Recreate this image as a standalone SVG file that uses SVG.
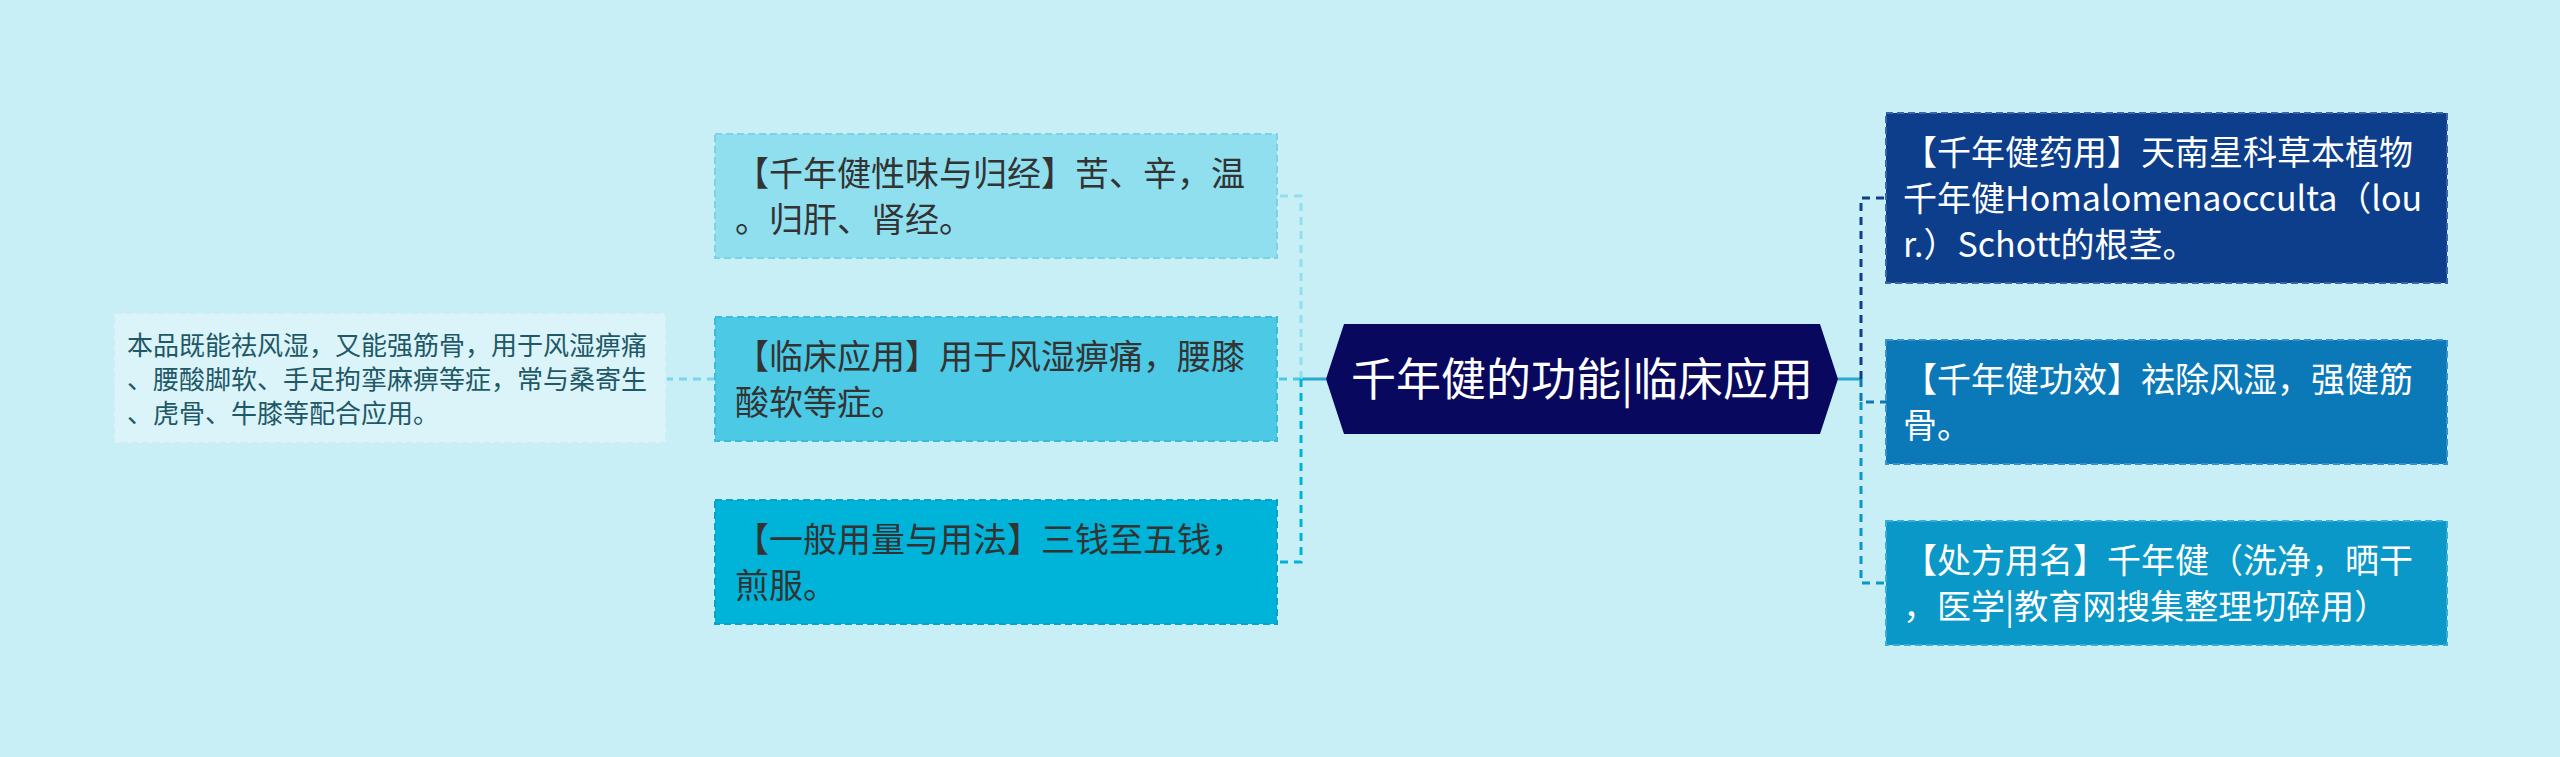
<svg xmlns="http://www.w3.org/2000/svg" width="2560" height="757" viewBox="0 0 2560 757">
<style>
text{font-family:"Noto Sans CJK SC","Noto Sans",sans-serif;}
.t34{font-size:34px;}
.dark{fill:#333333;}
.white{fill:#ffffff;}
.box{stroke-width:2;stroke-dasharray:7 4;}
.conn{fill:none;stroke-width:3;stroke-dasharray:8 6;}
.solid{fill:none;stroke-width:3;stroke:#27A9D0;}
</style>
<rect width="2560" height="757" fill="#C8EFF6"/>
<g id="connectors">
<path class="solid" d="M1326 379 H1301"/>
<path class="conn" stroke="#8FDFEF" d="M1301 379 V196 H1277"/>
<path class="conn" stroke="#4CC9E4" d="M1301 379 H1277"/>
<path class="conn" stroke="#00B4D9" d="M1301 379 V562 H1277"/>
<path class="conn" stroke="#7AD6EA" d="M715 379 H666"/>
<path class="solid" d="M1838 379 H1861"/>
<path class="conn" stroke="#0C3E8C" d="M1861 379 V198 H1886"/>
<path class="conn" stroke="#0B79B8" d="M1861 379 V402 H1886"/>
<path class="conn" stroke="#0A98C8" d="M1861 402 V583 H1886"/>
</g>
<g id="center">
<polygon points="1326,379 1344,324 1820,324 1838,379 1820,434 1344,434" fill="#08085E"/>
<text x="1582" y="396" font-size="45" fill="#ffffff" text-anchor="middle">千年健的功能|临床应用</text>
</g>
<g id="left1">
<rect class="box" x="715" y="134" width="562" height="124" fill="#8FDFEF" stroke="#7CD3E8"/>
<text class="t34 dark" x="735" y="186">【千年健性味与归经】苦、辛，温</text>
<text class="t34 dark" x="735" y="232">。归肝、肾经。</text>
</g>
<g id="left2">
<rect class="box" x="715" y="317" width="562" height="124" fill="#4CC9E4" stroke="#3ABBD9"/>
<text class="t34 dark" x="735" y="369">【临床应用】用于风湿痹痛，腰膝</text>
<text class="t34 dark" x="735" y="415">酸软等症。</text>
</g>
<g id="left3">
<rect class="box" x="715" y="500" width="562" height="124" fill="#00B4D9" stroke="#0AA3C8"/>
<text class="t34 dark" x="735" y="552">【一般用量与用法】三钱至五钱，</text>
<text class="t34 dark" x="735" y="598">煎服。</text>
</g>
<g id="farleft">
<rect class="box" x="114" y="313" width="552" height="130" fill="#DAF4FA" stroke="#CBEDF5"/>
<text x="127" y="355" font-size="26" fill="#1F5866">本品既能祛风湿，又能强筋骨，用于风湿痹痛</text>
<text x="127" y="389" font-size="26" fill="#1F5866">、腰酸脚软、手足拘挛麻痹等症，常与桑寄生</text>
<text x="127" y="423" font-size="26" fill="#1F5866">、虎骨、牛膝等配合应用。</text>
</g>
<g id="right1">
<rect class="box" x="1886" y="113" width="561" height="170" fill="#0C3E8C" stroke="#3A65AA"/>
<text class="t34 white" x="1903" y="165">【千年健药用】天南星科草本植物</text>
<text class="t34 white" x="1903" y="211">千年健Homalomenaocculta（lou</text>
<text class="t34 white" x="1903" y="257">r.）Schott的根茎。</text>
</g>
<g id="right2">
<rect class="box" x="1886" y="340" width="561" height="124" fill="#0B79B8" stroke="#3A93C8"/>
<text class="t34 white" x="1903" y="392">【千年健功效】祛除风湿，强健筋</text>
<text class="t34 white" x="1903" y="438">骨。</text>
</g>
<g id="right3">
<rect class="box" x="1886" y="521" width="561" height="124" fill="#0A98C8" stroke="#3AAED6"/>
<text class="t34 white" x="1903" y="573">【处方用名】千年健（洗净，晒干</text>
<text class="t34 white" x="1903" y="619">，医学|教育网搜集整理切碎用）</text>
</g>
</svg>
